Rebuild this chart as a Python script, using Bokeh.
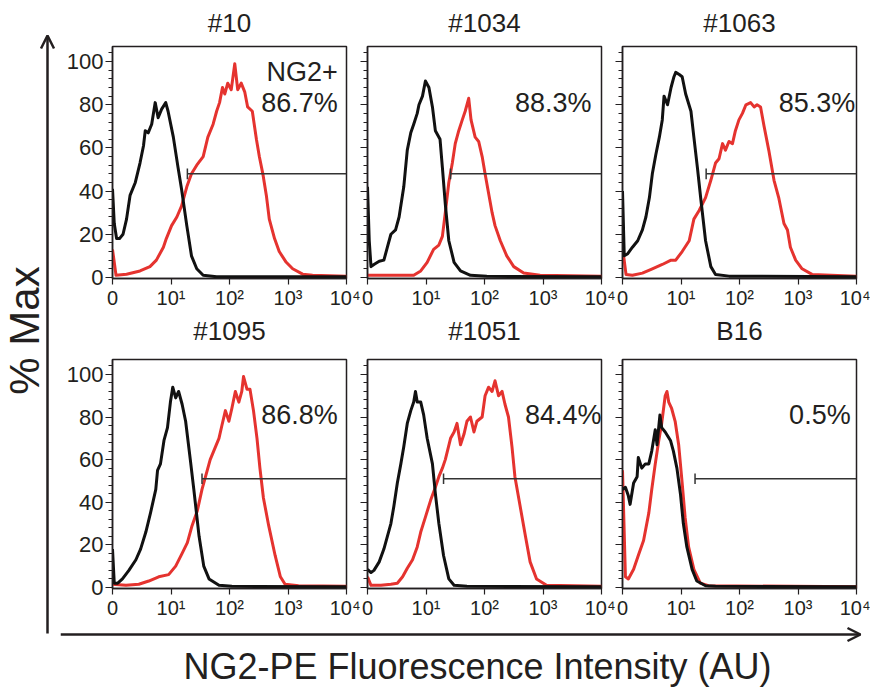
import numpy as np
from bokeh.plotting import figure
from bokeh.models import Range1d, FixedTicker, Arrow, OpenHead
from bokeh.layouts import row, column
from bokeh.embed import file_html
from bokeh.resources import INLINE
from bokeh.core.properties import value

FONT = "Liberation Sans"
INK = "#231f20"
RED = "#e5332f"
BLACK = "#111111"

# ---------------- data (x in display decades: 0 -> "0", 1 -> 10^1, ... 4 -> 10^4) ----------------
TITLES = ["#10", "#1034", "#1063", "#1095", "#1051", "B16"]
PERCENTS = ["86.7%", "88.3%", "85.3%", "86.8%", "84.4%", "0.5%"]
GATE_X = [1.28, 1.42, 1.43, 1.53, 1.30, 1.24]
GATE_Y = [48, 48, 48, 51, 51, 51]
X_TICKS = [0, 1, 2, 3, 4]
X_TICK_LABELS = ["0", "10\u00b9", "10\u00b2", "10\u00b3", "10\u2074"]
Y_TICKS = [0, 20, 40, 60, 80, 100]

P1_BLACK_U = [0, 0.03, 0.07, 0.12, 0.18, 0.24, 0.30, 0.39, 0.47, 0.53, 0.56, 0.61, 0.67, 0.73, 0.78, 0.84, 0.91, 0.95, 1.04, 1.12, 1.18, 1.27, 1.35, 1.44, 1.55, 1.78, 4.0]
P1_BLACK_Y = [41, 25, 18, 18, 20, 27, 38, 44, 53, 61, 68, 67, 71, 81, 74, 78, 81, 77, 65, 51, 41, 24, 10, 4, 1, 0.3, 0.3]
P1_RED_U = [0, 0.06, 0.24, 0.47, 0.64, 0.75, 0.87, 0.92, 1.01, 1.10, 1.18, 1.27, 1.35, 1.44, 1.55, 1.63, 1.72, 1.78, 1.83, 1.88, 1.92, 1.97, 2.03, 2.09, 2.14, 2.20, 2.26, 2.31, 2.39, 2.46, 2.51, 2.57, 2.63, 2.68, 2.77, 2.85, 2.97, 3.08, 3.25, 3.42, 4.0]
P1_RED_Y = [13, 1, 1.5, 3, 5, 8, 14, 18, 24, 28, 33, 42, 48, 52, 56, 65, 71, 77, 81, 88, 85, 90, 87, 99, 87, 90, 86, 79, 77, 64, 56, 48, 38, 27, 18, 12, 7, 4, 1.5, 1, 0.5]

P2_BLACK_U = [0, 0.03, 0.06, 0.11, 0.20, 0.28, 0.34, 0.40, 0.48, 0.54, 0.62, 0.68, 0.74, 0.79, 0.85, 0.88, 0.94, 0.99, 1.05, 1.11, 1.16, 1.24, 1.28, 1.33, 1.39, 1.48, 1.59, 1.76, 2.04, 4.0]
P2_BLACK_Y = [42, 17, 5, 6, 7.5, 8, 14, 20, 22, 28, 42, 59, 67, 71, 76, 80, 84, 91, 88, 79, 68, 64, 51, 34, 17, 7, 3, 1, 0.5, 0.3]
P2_RED_U = [0, 0.79, 0.91, 1.02, 1.13, 1.22, 1.28, 1.33, 1.39, 1.45, 1.50, 1.56, 1.62, 1.67, 1.73, 1.77, 1.84, 1.90, 1.96, 2.01, 2.07, 2.13, 2.18, 2.27, 2.38, 2.50, 2.67, 2.95, 4.0]
P2_RED_Y = [1, 1, 3, 7, 13, 15, 19, 30, 44, 53, 62, 68, 73, 77, 83, 73, 65, 63, 56, 48, 39, 30, 24, 17, 10, 5, 2, 1, 0.5]

P3_BLACK_U = [0, 0.03, 0.09, 0.17, 0.26, 0.34, 0.40, 0.46, 0.51, 0.57, 0.63, 0.68, 0.71, 0.77, 0.83, 0.88, 0.91, 0.97, 1.02, 1.08, 1.17, 1.22, 1.28, 1.34, 1.42, 1.51, 1.59, 1.82, 4.0]
P3_BLACK_Y = [40, 10, 11, 14, 17, 22, 28, 37, 48, 57, 65, 73, 84, 80, 88, 93, 95, 94, 93, 85, 77, 65, 51, 36, 17, 5, 1.4, 0.6, 0.3]
P3_RED_U = [0, 0.06, 0.17, 0.34, 0.51, 0.68, 0.83, 0.91, 1.02, 1.14, 1.22, 1.31, 1.42, 1.51, 1.59, 1.65, 1.71, 1.76, 1.82, 1.88, 1.93, 1.99, 2.05, 2.11, 2.19, 2.25, 2.30, 2.36, 2.42, 2.50, 2.59, 2.67, 2.76, 2.82, 2.87, 2.96, 3.07, 3.24, 4.0]
P3_RED_Y = [14, 1.4, 1, 2, 4, 6, 8, 8, 12, 17, 27, 31, 37, 45, 53, 55, 62, 59, 63, 62, 68, 73, 76, 80, 81, 79, 80, 79, 70, 59, 45, 37, 25, 22, 14, 8, 4, 1.4, 0.5]

P4_BLACK_U = [0, 0.03, 0.09, 0.17, 0.28, 0.40, 0.48, 0.57, 0.65, 0.74, 0.77, 0.82, 0.88, 0.94, 0.99, 1.03, 1.08, 1.13, 1.19, 1.25, 1.33, 1.39, 1.48, 1.56, 1.65, 1.82, 2.04, 4.0]
P4_BLACK_Y = [18, 2, 2, 4, 8, 13, 18, 26, 35, 46, 55, 58, 69, 75, 87, 94, 89, 92, 86, 78, 60, 46, 24, 10, 4, 1, 0.5, 0.3]
P4_RED_U = [0, 0.23, 0.45, 0.62, 0.79, 0.96, 1.08, 1.19, 1.28, 1.36, 1.45, 1.53, 1.59, 1.67, 1.76, 1.82, 1.87, 1.93, 1.99, 2.04, 2.10, 2.16, 2.21, 2.24, 2.30, 2.35, 2.41, 2.47, 2.52, 2.58, 2.67, 2.78, 2.87, 2.95, 3.18, 4.0]
P4_RED_Y = [1.5, 1, 1.5, 3, 5, 6, 10, 16, 21, 29, 36, 46, 52, 60, 66, 70, 76, 83, 78, 84, 92, 87, 92, 99, 93, 93, 83, 70, 56, 42, 29, 15, 5, 1.5, 0.8, 0.6]

P5_BLACK_U = [0, 0.06, 0.11, 0.20, 0.28, 0.34, 0.40, 0.45, 0.51, 0.57, 0.62, 0.68, 0.74, 0.79, 0.82, 0.85, 0.91, 0.96, 1.02, 1.11, 1.16, 1.22, 1.30, 1.39, 1.48, 1.70, 4.0]
P5_BLACK_Y = [8.5, 7, 8, 12, 18, 24, 30, 38, 49, 58, 66, 77, 83, 87, 92, 87, 87, 81, 70, 58, 44, 30, 15, 4, 1, 0.5, 0.3]
P5_RED_U = [0, 0.06, 0.23, 0.40, 0.51, 0.60, 0.68, 0.77, 0.85, 0.91, 0.99, 1.08, 1.16, 1.22, 1.28, 1.33, 1.42, 1.48, 1.53, 1.59, 1.65, 1.70, 1.76, 1.82, 1.87, 1.96, 2.01, 2.07, 2.13, 2.18, 2.24, 2.30, 2.35, 2.41, 2.47, 2.52, 2.61, 2.70, 2.78, 2.89, 3.06, 4.0]
P5_RED_Y = [5, 1, 1, 1.5, 2, 5, 9, 13, 19, 26, 33, 41, 47, 52, 56, 60, 70, 73, 77, 67, 72, 78, 80, 73, 78, 80, 90, 94, 92, 97, 90, 92, 86, 80, 66, 52, 38, 24, 12, 4, 1, 0.6]

P6_BLACK_U = [0, 0.05, 0.10, 0.13, 0.19, 0.25, 0.27, 0.33, 0.39, 0.45, 0.50, 0.56, 0.59, 0.64, 0.67, 0.73, 0.82, 0.87, 0.93, 0.99, 1.04, 1.10, 1.19, 1.27, 1.42, 1.59, 4.0]
P6_BLACK_Y = [46, 47, 43, 39, 49, 52, 61, 56, 58, 58, 64, 74, 67, 81, 75, 73, 69, 64, 56, 44, 30, 19, 8.5, 3, 0.8, 0.5, 0.3]
P6_RED_U = [0, 0.05, 0.10, 0.19, 0.27, 0.36, 0.45, 0.50, 0.56, 0.62, 0.67, 0.73, 0.76, 0.79, 0.84, 0.90, 0.96, 1.02, 1.07, 1.13, 1.22, 1.33, 1.47, 4.0]
P6_RED_Y = [55, 5, 4, 8.5, 15, 22, 35, 46, 58, 69, 77, 90, 92, 87, 84, 78, 67, 49, 33, 19, 8.5, 2, 0.8, 0.3]

BLACK_CURVES = [(P1_BLACK_U, P1_BLACK_Y), (P2_BLACK_U, P2_BLACK_Y), (P3_BLACK_U, P3_BLACK_Y),
                (P4_BLACK_U, P4_BLACK_Y), (P5_BLACK_U, P5_BLACK_Y), (P6_BLACK_U, P6_BLACK_Y)]
RED_CURVES = [(P1_RED_U, P1_RED_Y), (P2_RED_U, P2_RED_Y), (P3_RED_U, P3_RED_Y),
              (P4_RED_U, P4_RED_Y), (P5_RED_U, P5_RED_Y), (P6_RED_U, P6_RED_Y)]

# label anchors (style)
LABEL_RIGHT = [3.85, 3.83, 3.98, 3.85, 4.0, 3.9]
LABEL_Y = 81

FRAME_W = 234
BORDER_L = [52, 7, 7]
BORDER_R = 14


def make_panel(i):
    col = i % 3
    r = i // 3
    L = BORDER_L[col]
    T = 6 if r == 0 else 8
    B = 33 if r == 0 else 36
    FH = 232 if r == 0 else 229
    p = figure(frame_width=FRAME_W, frame_height=FH,
               min_border_left=L, min_border_right=BORDER_R, min_border_top=T, min_border_bottom=B,
               x_range=Range1d(0, 4), y_range=Range1d(-0.5, 107),
               output_backend="svg", toolbar_location=None)
    p.background_fill_color = "white"
    p.border_fill_color = "white"
    p.outline_line_color = INK
    p.outline_line_width = 1.5
    p.outline_line_alpha = 1.0
    p.xgrid.visible = False
    p.ygrid.visible = False

    xa = p.xaxis[0]
    xa.ticker = FixedTicker(ticks=X_TICKS)
    xa.major_label_overrides = {t: lab for t, lab in zip(X_TICKS, X_TICK_LABELS)}
    xa.major_tick_out = 6
    xa.major_tick_in = 0
    xa.minor_tick_out = 0
    xa.minor_tick_in = 0
    xa.axis_line_color = INK
    xa.axis_line_width = 1.5
    xa.major_tick_line_color = INK
    xa.major_tick_line_width = 1.2
    xa.major_label_text_font = FONT
    xa.major_label_text_font_size = "20px"
    xa.major_label_text_color = INK
    xa.major_label_standoff = 2

    ya = p.yaxis[0]
    ya.ticker = FixedTicker(ticks=Y_TICKS, minor_ticks=list(range(0, 108, 4)))
    ya.major_tick_out = 7
    ya.major_tick_in = 0
    ya.minor_tick_out = 4
    ya.minor_tick_in = 0
    ya.axis_line_color = INK
    ya.axis_line_width = 1.5
    ya.major_tick_line_color = INK
    ya.minor_tick_line_color = INK
    ya.major_tick_line_width = 1.2
    ya.minor_tick_line_width = 1
    ya.major_label_text_font = FONT
    if col == 0:
        ya.major_label_text_font_size = "22px"
        ya.major_label_text_color = INK
        ya.major_label_standoff = 2
    else:
        ya.major_label_overrides = {t: "" for t in Y_TICKS}
        ya.major_label_text_color = None
        ya.major_label_text_font_size = "1px"
        ya.major_label_standoff = 0

    rx, ry = RED_CURVES[i]
    kx, ky = BLACK_CURVES[i]
    p.line(rx, ry, line_color=RED, line_width=3, line_join="round")
    p.line(kx, ky, line_color=BLACK, line_width=3, line_join="round")

    gx, gy = GATE_X[i], GATE_Y[i]
    p.segment(x0=[gx], y0=[gy], x1=[X_TICKS[-1]], y1=[gy], line_color="#333333", line_width=1.5)
    p.segment(x0=[gx], y0=[gy - 2.5], x1=[gx], y1=[gy + 2.5], line_color="#333333", line_width=1.5)

    p.text(x=[LABEL_RIGHT[i]], y=[LABEL_Y], text=[PERCENTS[i]], text_align="right",
           text_baseline="middle", text_font=value(FONT), text_font_size="27px", text_color=INK)
    if i == 0:
        p.text(x=[LABEL_RIGHT[i]], y=[95], text=["NG2+"], text_align="right",
               text_baseline="middle", text_font=value(FONT), text_font_size="27px", text_color=INK)
    return p


def make_title(i, height, text_y):
    col = i % 3
    w = BORDER_L[col] + FRAME_W + BORDER_R
    t = figure(width=w, height=height, x_range=Range1d(0, w), y_range=Range1d(0, height),
               x_axis_location=None, y_axis_location=None, min_border=0,
               output_backend="svg", toolbar_location=None, outline_line_color=None)
    t.grid.visible = False
    t.text(x=[BORDER_L[col] + FRAME_W / 2], y=[text_y], text=[TITLES[i]], text_align="center",
           text_baseline="middle", text_font=value(FONT), text_font_size="26px", text_color=INK)
    return t


panels = [make_panel(i) for i in range(6)]
titles_top = [make_title(i, 40, 18) for i in range(3)]
titles_bot = [make_title(i, 40, 21) for i in range(3, 6)]

# left strip: y-axis title and arrow
left = figure(width=60, height=691, x_range=Range1d(0, 60), y_range=Range1d(0, 691),
              x_axis_location=None, y_axis_location=None, min_border=0,
              output_backend="svg", toolbar_location=None, outline_line_color=None)
left.grid.visible = False
left.add_layout(Arrow(end=OpenHead(size=13, line_width=2.5, line_color=INK),
                      x_start=47, y_start=58, x_end=47, y_end=656,
                      line_width=2.5, line_color=INK))
left.text(x=[24], y=[361], text=["% Max"], angle=np.pi / 2, text_align="center",
          text_baseline="middle", text_font=value(FONT), text_font_size="42px", text_color=INK)

# bottom strip: x-axis title and arrow
bottom = figure(width=810, height=67, x_range=Range1d(0, 810), y_range=Range1d(0, 67),
                x_axis_location=None, y_axis_location=None, min_border=0,
                output_backend="svg", toolbar_location=None, outline_line_color=None)
bottom.grid.visible = False
bottom.add_layout(Arrow(end=OpenHead(size=13, line_width=2.5, line_color=INK),
                        x_start=0, y_start=57, x_end=800, y_end=57,
                        line_width=2.5, line_color=INK))
bottom.text(x=[417], y=[25], text=["NG2-PE Fluorescence Intensity (AU)"], text_align="center",
            text_baseline="middle", text_font=value(FONT), text_font_size="36px", text_color=INK)

layout = row(left, column(row(*titles_top), row(*panels[:3]),
                          row(*titles_bot), row(*panels[3:]), bottom))

open("out.html", "w").write(file_html(layout, INLINE, title="NG2"))
